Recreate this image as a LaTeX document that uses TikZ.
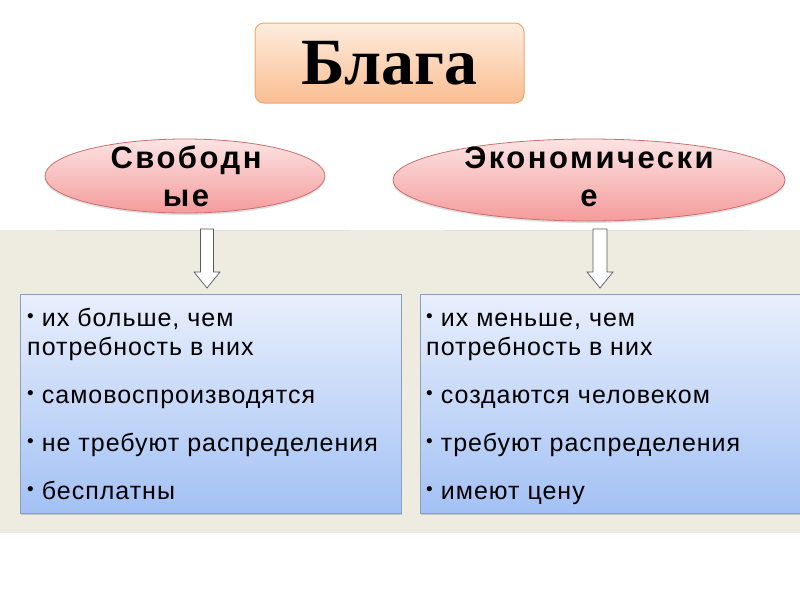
\documentclass[tikz,border=0pt]{standalone}
\usepackage{fontspec}
\setmainfont{Liberation Sans}
\newfontfamily\titlefont{Liberation Serif}
\usetikzlibrary{shapes.geometric,shadows}
\definecolor{bandbg}{RGB}{238,235,224}
\definecolor{titletop}{RGB}{253,236,222}
\definecolor{titlebot}{RGB}{250,190,145}
\definecolor{titleedge}{RGB}{240,165,115}
\definecolor{elltop}{RGB}{252,228,228}
\definecolor{ellbot}{RGB}{245,155,155}
\definecolor{elledge}{RGB}{205,110,110}
\definecolor{boxtop}{RGB}{232,239,252}
\definecolor{boxbot}{RGB}{163,193,244}
\definecolor{boxedge}{RGB}{140,160,190}
\definecolor{arrowedge}{RGB}{90,90,90}
\tikzset{
  titlebox/.style={draw=titleedge, line width=1pt, rounded corners=9pt,
    top color=titletop, bottom color=titlebot,
    minimum width=269pt, minimum height=80pt, inner sep=0pt,
    font=\titlefont\bfseries\fontsize{66}{66}\selectfont},
  ellbox/.style={ellipse, draw=elledge, line width=0.8pt,
    top color=elltop, bottom color=ellbot, inner sep=0pt,
    drop shadow={opacity=0.25, shadow xshift=0pt, shadow yshift=-2pt}},
  elltext/.style={font=\bfseries\fontsize{31}{31}\selectfont\addfontfeature{LetterSpace=8}, anchor=base, inner sep=0pt},
  listbox/.style={draw=boxedge, line width=0.8pt, top color=boxtop, bottom color=boxbot,
    inner sep=0pt, anchor=north west,
    drop shadow={opacity=0.35, shadow xshift=1pt, shadow yshift=-2pt}},
  itemtext/.style={font=\fontsize{25}{25}\selectfont\addfontfeature{LetterSpace=4}, anchor=base west, inner sep=0pt},
  blockarrow/.style={draw=arrowedge, line width=0.7pt, fill=white},
}
\newcommand{\bul}{{\fontsize{19}{19}\selectfont\raisebox{4pt}{•}}\hspace{8pt}}
\begin{document}
\begin{tikzpicture}[x=1pt,y=-1pt]
\useasboundingbox (0,0) rectangle (800,600);
\fill[white] (0,0) rectangle (800,600);
\fill[bandbg] (0,230) rectangle (800,533);
\draw[black!12, line width=1pt] (56,230.5) -- (350,230.5);
\draw[black!12, line width=1pt] (444,230.5) -- (750,230.5);

% title
\node[titlebox] (title) at (389.5,63) {\raisebox{-2pt}{Блага}};

% ellipses
\node[ellbox, minimum width=280pt, minimum height=74pt] (free) at (185,176) {};
\node[ellbox, minimum width=392pt, minimum height=82pt] (econ) at (589,180) {};
\node[elltext] (free1) at (186,168) {Свободн};
\node[elltext] (free2) at (186,206) {ые};
\node[elltext] (econ1) at (589,168) {Экономически};
\node[elltext] (econ2) at (589,206) {е};

% arrows
\draw[blockarrow] (200.5,229) -- (213.5,229) -- (213.5,272) -- (220,272) -- (207,288)
  -- (194,272) -- (200.5,272) -- cycle;
\draw[blockarrow] (593,229) -- (607,229) -- (607,272) -- (613,272) -- (600,288)
  -- (587,272) -- (593,272) -- cycle;

% boxes
\node[listbox, minimum width=381pt, minimum height=219pt] (lbox) at (20,294) {};
\node[listbox, minimum width=380pt, minimum height=219pt] (rbox) at (420,294) {};

\node[itemtext] (l1) at (27,326) {\bul их больше, чем};
\node[itemtext] (l2) at (27,355) {потребность в них};
\node[itemtext] (l3) at (27,403) {\bul самовоспроизводятся};
\node[itemtext] (l4) at (27,451) {\bul не требуют распределения};
\node[itemtext] (l5) at (27,499) {\bul бесплатны};

\node[itemtext] (r1) at (426,326) {\bul их меньше, чем};
\node[itemtext] (r2) at (426,355) {потребность в них};
\node[itemtext] (r3) at (426,403) {\bul создаются человеком};
\node[itemtext] (r4) at (426,451) {\bul требуют распределения};
\node[itemtext] (r5) at (426,499) {\bul имеют цену};
\end{tikzpicture}
\end{document}
